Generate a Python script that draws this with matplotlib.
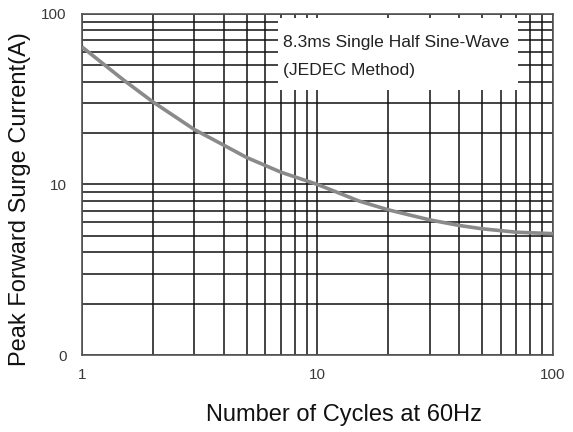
import matplotlib
matplotlib.use("Agg")
import matplotlib.pyplot as plt
from matplotlib.patches import Rectangle
from matplotlib.ticker import FixedLocator, FixedFormatter, LogLocator, NullFormatter

plt.rcParams['font.family'] = ['Liberation Sans', 'DejaVu Sans']

cycles = [1, 1.5, 2, 3, 4, 5, 7, 10, 15, 20, 30, 40, 50, 70, 100]
current = [64, 41, 30.5, 21, 17, 14.4, 11.8, 10, 8.0, 7.1, 6.2, 5.75, 5.5, 5.25, 5.15]

x_ticks = [1, 10, 100]
x_labels = ["1", "10", "100"]
y_ticks = [1, 10, 100]
y_labels = ["0", "10", "100"]

fig = plt.figure(figsize=(5.73, 4.32), dpi=100)
ax = fig.add_axes([0.143, 0.178, 0.822, 0.790])
ax.set_xscale('log')
ax.set_yscale('log')
ax.set_xlim(1, 100)
ax.set_ylim(1, 100)

ax.plot(cycles, current, color='#8a8a8a', lw=2.6, zorder=3, solid_capstyle='butt')

ax.xaxis.set_major_locator(FixedLocator(x_ticks))
ax.xaxis.set_major_formatter(FixedFormatter(x_labels))
ax.yaxis.set_major_locator(FixedLocator(y_ticks))
ax.yaxis.set_major_formatter(FixedFormatter(y_labels))
ax.xaxis.set_minor_locator(LogLocator(base=10, subs=range(2, 10)))
ax.yaxis.set_minor_locator(LogLocator(base=10, subs=range(2, 10)))
ax.xaxis.set_minor_formatter(NullFormatter())
ax.yaxis.set_minor_formatter(NullFormatter())
ax.grid(True, which='both', color='#111111', lw=1.1)
ax.tick_params(which='both', length=0)
ax.tick_params(axis='x', pad=9)
ax.tick_params(axis='y', pad=11)
for lab in ax.get_xticklabels() + ax.get_yticklabels():
    lab.set_color('#3a3a3a')
    lab.set_fontsize(11)
for s in ax.spines.values():
    s.set_color('#555555')
    s.set_linewidth(1.2)

ax.add_patch(Rectangle((0.416, 0.777), 0.51, 0.211, transform=ax.transAxes,
                       facecolor='white', edgecolor='none', zorder=2))
ax.text(0.427, 0.915, "8.3ms Single Half Sine-Wave", transform=ax.transAxes,
        fontsize=12.6, color='#222222', va='center', ha='left', zorder=4)
ax.text(0.427, 0.835, "(JEDEC Method)", transform=ax.transAxes,
        fontsize=12.6, color='#222222', va='center', ha='left', zorder=4)

fig.text(0.035, 0.539, "Peak Forward Surge Current(A)", rotation=90,
         fontsize=17, ha='center', va='center', color='#111111')
fig.text(0.600, 0.04, "Number of Cycles at 60Hz", fontsize=17,
         ha='center', va='center', color='#111111')

fig.savefig("out.png", dpi=100)
